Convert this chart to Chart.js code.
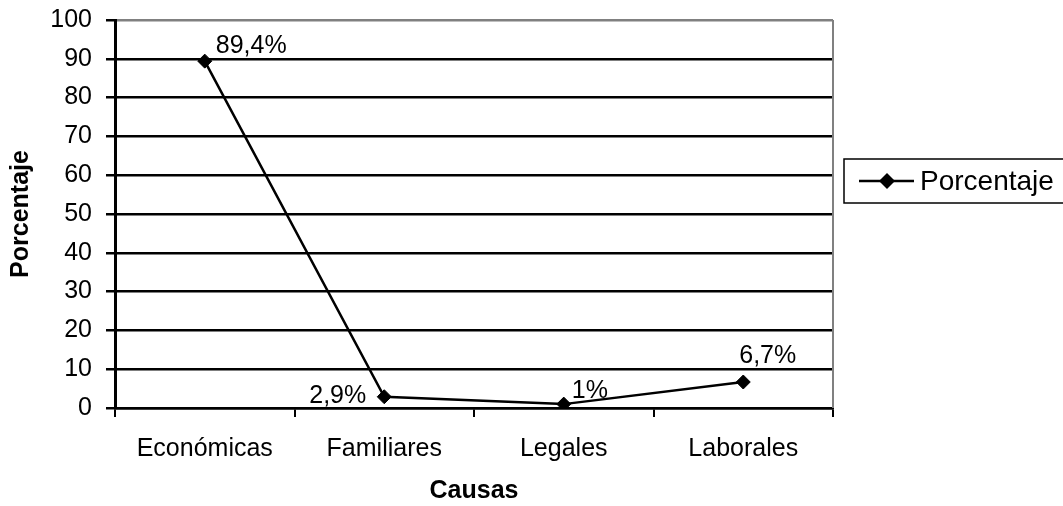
<!DOCTYPE html>
<html>
<head>
<meta charset="utf-8">
<script src="https://cdn.jsdelivr.net/npm/chart.js@4/dist/chart.umd.min.js"></script>
<style>
  body { margin: 0; background: #fff; }
  #wrap { width: 1063px; height: 506px; }
</style>
</head>
<body>
<div id="wrap"><canvas id="causasChart" width="1063" height="506"></canvas></div>
<script>
// Data
const categories = ['Económicas', 'Familiares', 'Legales', 'Laborales'];
const porcentaje = [89.4, 2.9, 1, 6.7];
const yTicks = [0, 10, 20, 30, 40, 50, 60, 70, 80, 90, 100];

// where each value label sits relative to its point (style only)
const labelPlacement = [
  { align: 'left', dx: 11, dy: -8 },
  { align: 'right', dx: -18, dy: 6 },
  { align: 'left', dx: 8, dy: -6 },
  { align: 'left', dx: -4, dy: -19 }
];

const FONT = 'Liberation Sans, Arial, sans-serif';

// value labels like "89,4%"
const valueLabels = {
  id: 'valueLabels',
  afterDatasetsDraw(chart) {
    const ctx = chart.ctx;
    const meta = chart.getDatasetMeta(0);
    ctx.save();
    ctx.fillStyle = '#000';
    ctx.font = '25px ' + FONT;
    ctx.textBaseline = 'alphabetic';
    meta.data.forEach(function (pt, i) {
      const p = labelPlacement[i];
      ctx.textAlign = p.align;
      const txt = String(porcentaje[i]).replace('.', ',') + '%';
      ctx.fillText(txt, pt.x + p.dx, pt.y + p.dy);
    });
    ctx.restore();
  }
};

// gray right border of the plot + boxed legend on the right
const frameAndLegend = {
  id: 'frameAndLegend',
  afterDraw(chart) {
    const ctx = chart.ctx;
    const a = chart.chartArea;
    ctx.save();
    ctx.strokeStyle = '#808080';
    ctx.lineWidth = 2;
    ctx.beginPath();
    ctx.moveTo(a.right, a.top);
    ctx.lineTo(a.right, a.bottom);
    ctx.stroke();

    const bx = a.right + 11, by = 159, bh = 44;
    ctx.strokeStyle = '#000';
    ctx.lineWidth = 1.5;
    ctx.strokeRect(bx, by, 260, bh);
    const ly = by + bh / 2;
    ctx.lineWidth = 2.5;
    ctx.beginPath();
    ctx.moveTo(bx + 15, ly);
    ctx.lineTo(bx + 70, ly);
    ctx.stroke();
    ctx.fillStyle = '#000';
    ctx.beginPath();
    ctx.moveTo(bx + 43 - 8, ly);
    ctx.lineTo(bx + 43, ly - 8);
    ctx.lineTo(bx + 43 + 8, ly);
    ctx.lineTo(bx + 43, ly + 8);
    ctx.closePath();
    ctx.fill();
    ctx.font = '28px ' + FONT;
    ctx.textBaseline = 'middle';
    ctx.textAlign = 'left';
    ctx.fillText(chart.data.datasets[0].label, bx + 76, ly + 1);
    ctx.restore();
  }
};

let causasCanvas = document.getElementById('causasChart');
let causasChart = new Chart(causasCanvas, {
  type: 'line',
  data: {
    labels: categories,
    datasets: [{
      label: 'Porcentaje',
      data: porcentaje,
      borderColor: '#000',
      backgroundColor: '#000',
      borderWidth: 2.5,
      pointStyle: 'rectRot',
      pointRadius: 7,
      pointBackgroundColor: '#000',
      pointBorderColor: '#000',
      pointBorderWidth: 1,
      tension: 0
    }]
  },
  options: {
    responsive: false,
    animation: false,
    layout: { padding: { left: 0, top: 20, right: 230, bottom: 0 } },
    plugins: {
      legend: { display: false },
      tooltip: { enabled: false }
    },
    scales: {
      x: {
        offset: true,
        afterFit: function (scale) {
          scale.height = 98;
          scale.paddingLeft = 0;
          scale.paddingRight = 0;
        },
        grid: {
          offset: true,
          drawOnChartArea: false,
          color: '#000',
          lineWidth: 2,
          tickLength: 9
        },
        border: { color: '#000', width: 2.5 },
        ticks: {
          color: '#000',
          font: { family: FONT, size: 25 },
          padding: 17,
          maxRotation: 0
        },
        title: {
          display: true,
          text: 'Causas',
          color: '#000',
          font: { family: FONT, size: 25, weight: 'bold' },
          padding: { top: 0, bottom: 0 }
        }
      },
      y: {
        min: 0,
        max: 100,
        afterFit: function (scale) {
          scale.width = 115;
          scale.paddingTop = 0;
          scale.paddingBottom = 0;
        },
        afterBuildTicks: function (scale) {
          scale.ticks = yTicks.map(function (v) { return { value: v }; });
        },
        grid: {
          color: function (c) { return c.tick && c.tick.value === 100 ? '#808080' : '#000'; },
          tickColor: '#000',
          lineWidth: 2.5,
          tickLength: 9
        },
        border: { color: '#000', width: 3 },
        ticks: {
          color: '#000',
          font: { family: FONT, size: 25 },
          padding: 14
        },
        title: {
          display: true,
          text: 'Porcentaje',
          color: '#000',
          font: { family: FONT, size: 25, weight: 'bold' },
          padding: { top: 6, bottom: 0 }
        }
      }
    }
  },
  plugins: [valueLabels, frameAndLegend]
});
</script>
</body>
</html>
